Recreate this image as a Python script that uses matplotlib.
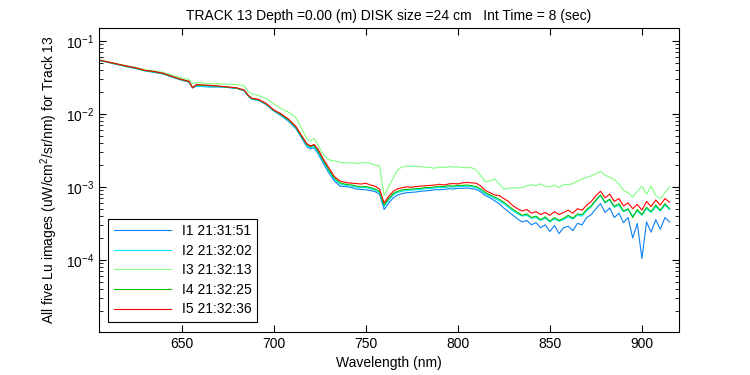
import numpy as np
import matplotlib
matplotlib.use('Agg')
import matplotlib.pyplot as plt

plt.rcParams['font.family'] = ['Liberation Sans', 'DejaVu Sans']
plt.rcParams['mathtext.default'] = 'regular'

# wavelengths (nm): coarse in the smooth part, 2.5 nm in the noisy part
wl = [605, 610, 615, 620, 625, 630, 635, 640, 645, 650, 654, 656, 658, 665, 670,
      675, 680, 684, 686, 688, 692, 696, 700, 704, 708, 712, 716, 718, 720, 722,
      724, 727, 730, 733, 736, 740,
      742.5, 745, 747.5, 750, 752.5, 755, 757.5, 760, 762.5, 765, 767.5, 770,
      772.5, 775, 777.5, 780, 782.5, 785, 787.5, 790, 792.5, 795, 797.5, 800,
      802.5, 805, 807.5, 810, 812.5, 815, 817.5, 820, 822.5, 825, 827.5, 830,
      832.5, 835, 837.5, 840, 842.5, 845, 847.5, 850, 852.5, 855, 857.5, 860,
      862.5, 865, 867.5, 870, 872.5, 875, 877.5, 880, 882.5, 885, 887.5, 890,
      892.5, 895, 897.5, 900, 902.5, 905, 907.5, 910, 912.5, 915]

# log10 of Lu, one list per image
log_i1 = [-1.268, -1.296, -1.325, -1.355, -1.380, -1.412, -1.432, -1.455, -1.500, -1.540,
          -1.565, -1.645, -1.622, -1.632, -1.632, -1.640, -1.652, -1.685, -1.752, -1.800,
          -1.820, -1.875, -1.960, -2.025, -2.100, -2.200, -2.365, -2.450, -2.480, -2.465,
          -2.540, -2.680, -2.810, -2.920, -2.990, -3.000,
          -3.010, -3.030, -3.035, -3.040, -3.050, -3.065, -3.100, -3.310, -3.220, -3.150,
          -3.110, -3.090, -3.080, -3.075, -3.070, -3.060, -3.055, -3.050, -3.040, -3.040,
          -3.035, -3.025, -3.030, -3.020, -3.020, -3.015, -3.025, -3.035, -3.070, -3.120,
          -3.150, -3.190, -3.230, -3.290, -3.340, -3.390, -3.440, -3.480, -3.460, -3.520,
          -3.490, -3.560, -3.520, -3.610, -3.530, -3.640, -3.560, -3.540, -3.600, -3.500,
          -3.520, -3.420, -3.380, -3.300, -3.230, -3.350, -3.290, -3.420, -3.360, -3.490,
          -3.420, -3.700, -3.500, -3.980, -3.480, -3.620, -3.450, -3.580, -3.420, -3.480]
log_i2 = [-1.266, -1.294, -1.322, -1.350, -1.375, -1.408, -1.428, -1.452, -1.495, -1.535,
          -1.560, -1.642, -1.620, -1.628, -1.630, -1.638, -1.650, -1.680, -1.748, -1.795,
          -1.815, -1.870, -1.955, -2.015, -2.090, -2.190, -2.350, -2.435, -2.465, -2.445,
          -2.515, -2.655, -2.785, -2.895, -2.960, -2.985,
          -2.990, -3.005, -3.010, -3.010, -3.025, -3.045, -3.075, -3.270, -3.180, -3.110,
          -3.075, -3.060, -3.050, -3.045, -3.040, -3.035, -3.025, -3.025, -3.015, -3.010,
          -3.010, -3.000, -3.005, -2.995, -2.995, -2.990, -3.000, -3.010, -3.045, -3.095,
          -3.125, -3.160, -3.190, -3.230, -3.280, -3.330, -3.370, -3.400, -3.390, -3.430,
          -3.420, -3.460, -3.430, -3.480, -3.440, -3.470, -3.450, -3.410, -3.440, -3.390,
          -3.400, -3.330, -3.270, -3.190, -3.120, -3.220, -3.180, -3.280, -3.250, -3.340,
          -3.310, -3.400, -3.330, -3.390, -3.300, -3.350, -3.270, -3.330, -3.250, -3.310]
log_i3 = [-1.262, -1.288, -1.315, -1.342, -1.365, -1.398, -1.412, -1.432, -1.472, -1.508,
          -1.532, -1.585, -1.575, -1.585, -1.590, -1.594, -1.600, -1.615, -1.690, -1.725,
          -1.750, -1.790, -1.860, -1.930, -1.975, -2.050, -2.240, -2.340, -2.370, -2.335,
          -2.420, -2.560, -2.630, -2.645, -2.665, -2.675,
          -2.670, -2.680, -2.675, -2.668, -2.680, -2.700, -2.715, -3.120, -2.990, -2.880,
          -2.760, -2.725, -2.714, -2.720, -2.718, -2.725, -2.730, -2.736, -2.745, -2.728,
          -2.735, -2.723, -2.730, -2.726, -2.735, -2.738, -2.736, -2.770, -2.850, -2.930,
          -2.920, -2.895, -2.960, -3.030, -3.020, -3.010, -3.015, -3.010, -2.985, -2.970,
          -2.985, -2.960, -2.990, -3.000, -2.975, -3.010, -2.965, -2.970, -2.955, -2.920,
          -2.890, -2.870, -2.850, -2.820, -2.790, -2.840, -2.870, -2.900, -2.960, -3.050,
          -3.080, -3.140, -3.060, -2.990, -3.100, -2.990, -3.120, -3.160, -3.080, -3.000]
log_i4 = [-1.265, -1.292, -1.320, -1.348, -1.372, -1.405, -1.425, -1.448, -1.492, -1.532,
          -1.558, -1.640, -1.605, -1.615, -1.622, -1.635, -1.648, -1.678, -1.745, -1.790,
          -1.810, -1.865, -1.950, -2.010, -2.080, -2.180, -2.340, -2.420, -2.450, -2.430,
          -2.500, -2.640, -2.770, -2.880, -2.945, -2.970,
          -2.975, -2.990, -3.000, -2.995, -3.010, -3.030, -3.060, -3.250, -3.160, -3.090,
          -3.060, -3.040, -3.035, -3.030, -3.025, -3.020, -3.010, -3.010, -3.000, -2.995,
          -2.995, -2.985, -2.990, -2.980, -2.980, -2.975, -2.985, -2.995, -3.030, -3.080,
          -3.110, -3.140, -3.170, -3.210, -3.260, -3.310, -3.350, -3.390, -3.370, -3.420,
          -3.400, -3.450, -3.410, -3.470, -3.420, -3.460, -3.430, -3.390, -3.430, -3.370,
          -3.380, -3.310, -3.260, -3.180, -3.110, -3.210, -3.170, -3.270, -3.230, -3.330,
          -3.300, -3.420, -3.310, -3.380, -3.280, -3.340, -3.250, -3.320, -3.230, -3.300]
log_i5 = [-1.263, -1.290, -1.318, -1.345, -1.370, -1.405, -1.420, -1.445, -1.490, -1.530,
          -1.555, -1.645, -1.600, -1.610, -1.620, -1.632, -1.645, -1.675, -1.740, -1.785,
          -1.805, -1.860, -1.945, -2.000, -2.070, -2.170, -2.330, -2.410, -2.440, -2.420,
          -2.480, -2.620, -2.740, -2.860, -2.920, -2.945,
          -2.950, -2.955, -2.962, -2.950, -2.975, -2.990, -3.030, -3.220, -3.130, -3.060,
          -3.025, -3.010, -3.000, -3.005, -2.995, -2.990, -2.985, -2.980, -2.975, -2.965,
          -2.975, -2.960, -2.955, -2.960, -2.945, -2.940, -2.945, -2.950, -2.990, -3.050,
          -3.080, -3.110, -3.120, -3.160, -3.200, -3.260, -3.300, -3.330, -3.310, -3.360,
          -3.340, -3.380, -3.350, -3.390, -3.340, -3.380, -3.350, -3.320, -3.360, -3.300,
          -3.320, -3.250, -3.200, -3.120, -3.060, -3.150, -3.100, -3.200, -3.160, -3.260,
          -3.220, -3.300, -3.240, -3.320, -3.200, -3.270, -3.180, -3.250, -3.160, -3.210]

labels = ['I1 21:31:51', 'I2 21:32:02', 'I3 21:32:13', 'I4 21:32:25', 'I5 21:32:36']
colors = ['#0a80f5', '#00e8ff', '#80ff80', '#00c000', '#ff0000']

fig = plt.figure(figsize=(7.5, 3.75), dpi=100)
ax = fig.add_axes([0.1316, 0.1155, 0.7734, 0.8095])

for lg, lab, c in zip([log_i1, log_i2, log_i3, log_i4, log_i5], labels, colors):
    ax.semilogy(wl, np.power(10.0, lg), color=c, lw=0.8, label=lab)

ax.set_xlim(605, 920)
ax.set_ylim(1.04e-5, 10 ** -0.827)
ax.set_xticks([650, 700, 750, 800, 850, 900])
ax.tick_params(which='both', direction='in', top=True, right=True, labelsize=10)
ax.tick_params(which='major', length=5)
ax.tick_params(which='minor', length=3)
for s in ax.spines.values():
    s.set_linewidth(0.8)

ax.set_title('TRACK 13 Depth =0.00 (m) DISK size =24 cm   Int Time = 8 (sec)', fontsize=10)
ax.set_xlabel('Wavelength (nm)', fontsize=10)
ax.set_ylabel('All five Lu images (uW/cm$^2$/sr/nm) for Track 13', fontsize=10)

leg = ax.legend(loc='lower left', fontsize=10, handlelength=4.1, fancybox=False,
                edgecolor='black', framealpha=1, borderaxespad=0.7, labelspacing=0.4)
leg.get_frame().set_linewidth(0.8)

fig.savefig('out.png', dpi=100)
